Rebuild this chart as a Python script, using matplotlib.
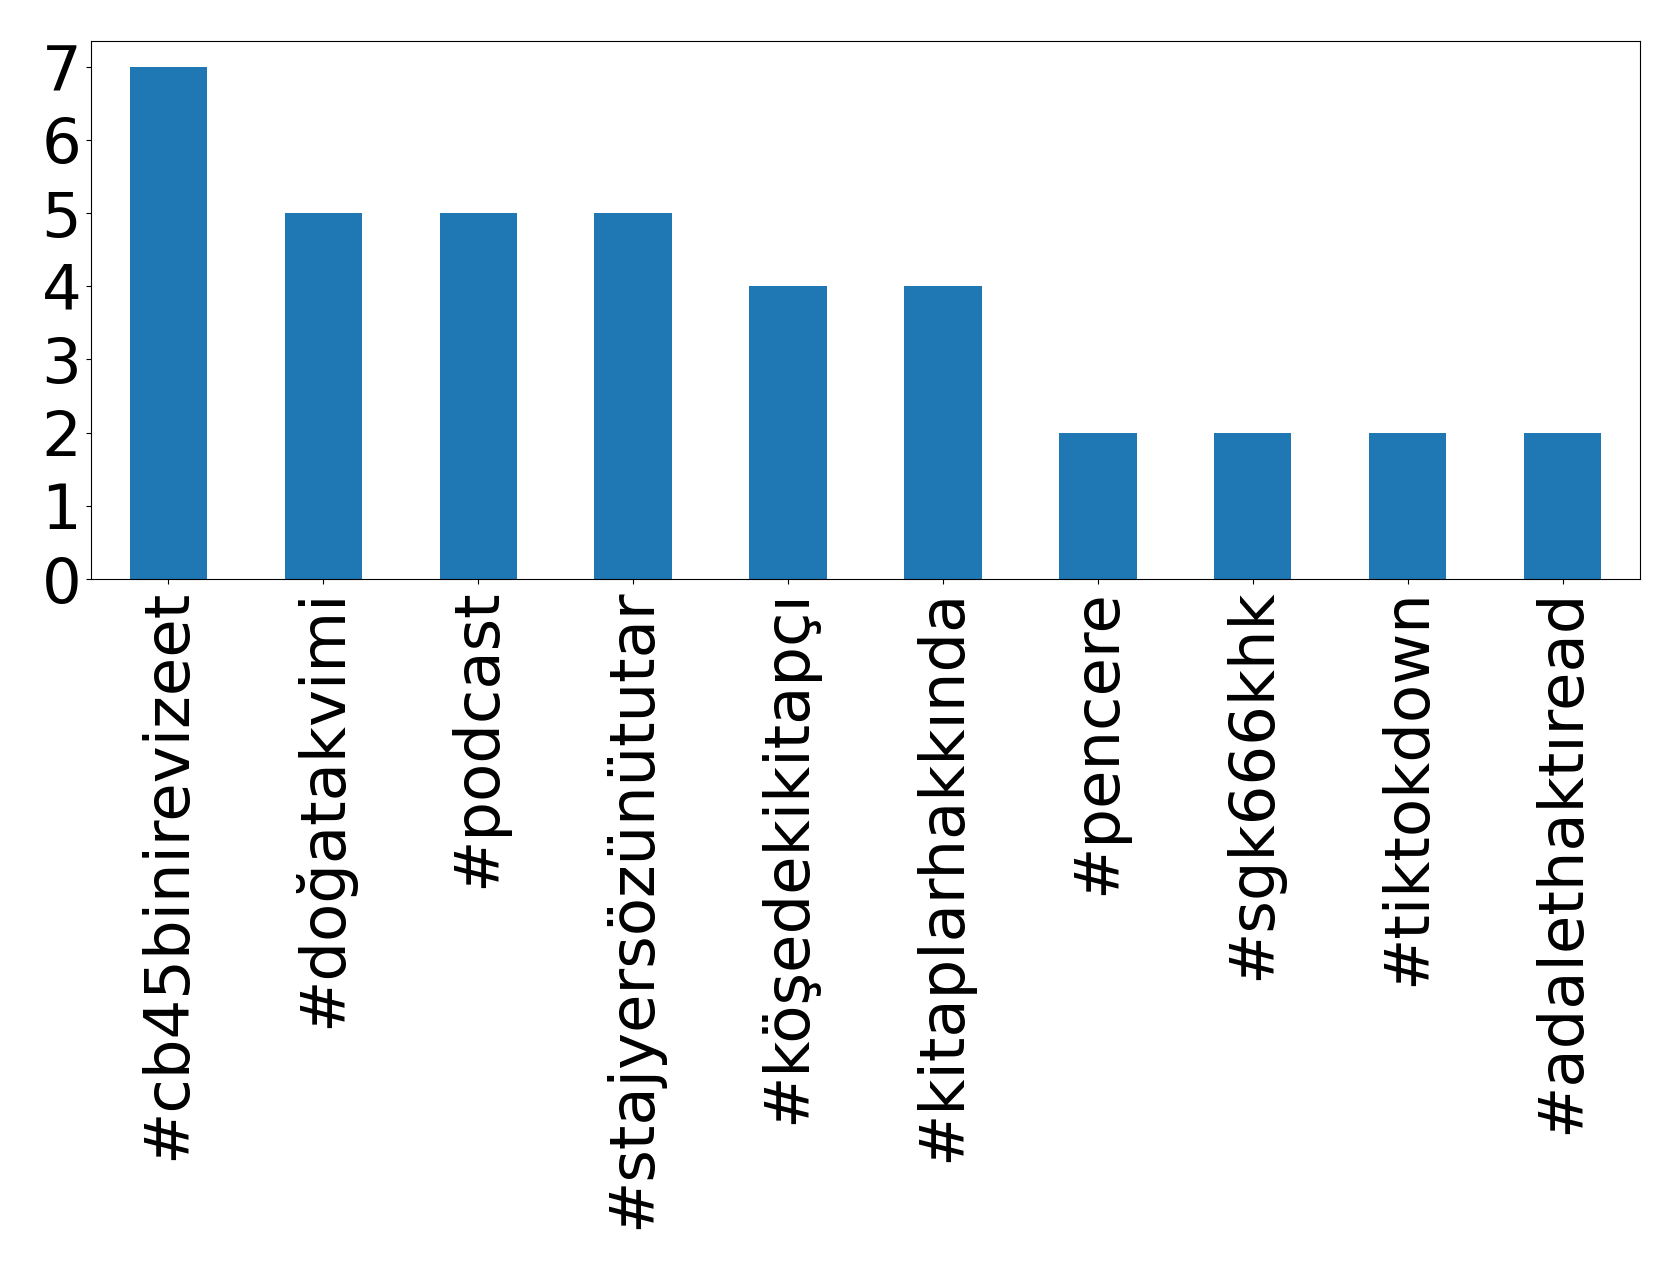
import pandas as pd
import matplotlib
matplotlib.use("Agg")
import matplotlib.pyplot as plt

# hashtag sayıları
hashtags = ["#cb45binirevizeet", "#doğatakvimi", "#podcast", "#stajyersözünütutar",
            "#köşedekikitapçı", "#kitaplarhakkında", "#pencere", "#sgk666khk",
            "#tiktokdown", "#adalethaktıread"]
counts = [7, 5, 5, 5, 4, 4, 2, 2, 2, 2]

s = pd.Series(counts, index=hashtags)

fig = plt.figure(figsize=(16.79, 12.69), dpi=100)
ax = fig.add_axes([91 / 1679, 1 - 579 / 1269, (1640 - 91) / 1679, (579 - 41) / 1269])
s.plot(kind="bar", ax=ax, color="#1f77b4", fontsize=45)
ax.set_yticks(range(8))

fig.savefig("out.png", dpi=100)
